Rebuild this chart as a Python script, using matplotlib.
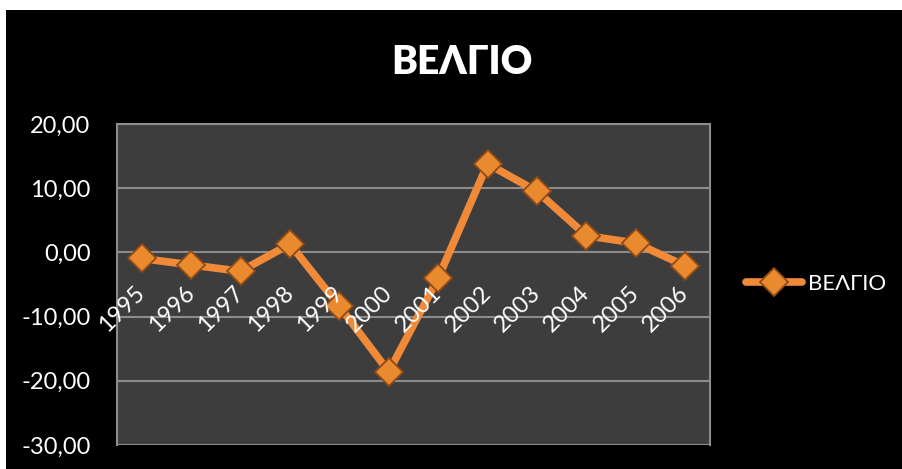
import matplotlib
matplotlib.use("Agg")
import matplotlib.pyplot as plt
from matplotlib.patches import Rectangle
from matplotlib.ticker import FuncFormatter

years = ["1995", "1996", "1997", "1998", "1999", "2000",
         "2001", "2002", "2003", "2004", "2005", "2006"]
values = [-0.95, -1.95, -2.95, 1.3, -8.4, -18.6,
          -4.0, 13.8, 9.5, 2.6, 1.45, -2.1]
series_name = "ΒΕΛΓΙΟ"
title = "ΒΕΛΓΙΟ"
y_ticks = [-30, -20, -10, 0, 10, 20]

FONT = ["Lato", "DejaVu Sans"]
plt.rcParams["font.family"] = FONT

W, H = 902, 469
fig = plt.figure(figsize=(W / 100, H / 100), dpi=100, facecolor="black")
# thin white margin at top and left
fig.patches.append(Rectangle((0, 1 - 10 / H), 1, 10 / H,
                             transform=fig.transFigure, facecolor="white",
                             edgecolor="none", zorder=-10))
fig.patches.append(Rectangle((0, 0), 6 / W, 1,
                             transform=fig.transFigure, facecolor="white",
                             edgecolor="none", zorder=-10))

ax = fig.add_axes([117 / W, 1 - 445 / H, (710 - 117) / W, (445 - 124) / H])
ax.set_facecolor("#3d3d3d")

line_col = "#f08a38"
x = list(range(len(years)))
ax.plot(x, values, color=line_col, lw=5.5, solid_capstyle="round",
        marker="D", ms=14, mfc="#ea8a2e", mec="#8f4a17", mew=1.3,
        label=series_name, zorder=5)

ax.set_xlim(-0.5, len(years) - 0.5)
ax.set_ylim(-30, 20)
ax.set_yticks(y_ticks)
ax.yaxis.set_major_formatter(FuncFormatter(lambda v, p: f"{v:.2f}".replace(".", ",")))
ax.grid(axis="y", color="#8c8c8c", lw=1.5)
ax.set_axisbelow(True)

for s in ["left", "right", "top"]:
    ax.spines[s].set_color("#8c8c8c")
    ax.spines[s].set_linewidth(1.5)
ax.spines["bottom"].set_position(("data", 0))
ax.spines["bottom"].set_visible(False)

# bottom border of plot area
ax.axhline(-30, color="#8c8c8c", lw=1.5, zorder=1)

ax.set_xticks(x)
ax.set_xticklabels(years, rotation=45, ha="right", va="center",
                   rotation_mode="anchor", fontsize=17, color="white")
ax.tick_params(axis="x", length=0, pad=27)
ax.tick_params(axis="y", length=0, pad=19, labelsize=17, labelcolor="white")
ax.xaxis.set_zorder(10)

fig.text(462 / W, 1 - 62 / H, title, ha="center", va="center",
         fontsize=28, fontweight="heavy", color="white")

leg = ax.legend(loc="center left", bbox_to_anchor=(746 / W, 1 - 284 / H),
                bbox_transform=fig.transFigure, frameon=False,
                borderpad=0, borderaxespad=0, handlelength=2.5,
                handletextpad=0.3, fontsize=16, labelcolor="white")

fig.savefig("out.png", dpi=100, facecolor=fig.get_facecolor())
